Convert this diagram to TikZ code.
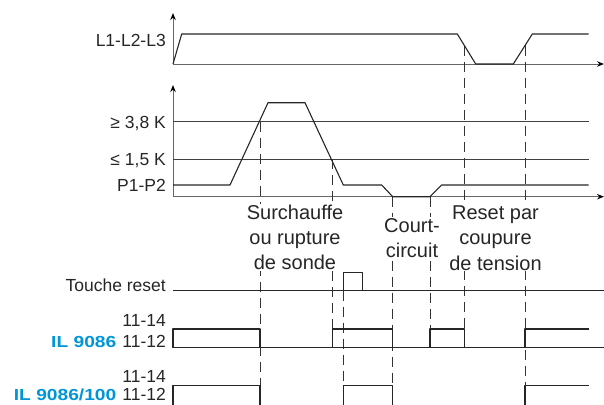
\documentclass[tikz,border=0pt]{standalone}
\usepackage{fontspec}
\setmainfont{Liberation Sans}
\newfontfamily\ilfont[FakeStretch=1.2]{Liberation Sans}
\usetikzlibrary{arrows.meta}
\definecolor{relayBlue}{RGB}{0,150,214}

\begin{document}
\begin{tikzpicture}[x=1pt,y=-1pt,
    axe/.style={draw=black!60,line width=1pt},
    sig/.style={draw=black!85,line width=1.1pt,line join=round},
    seuil/.style={draw=black!75,line width=1pt},
    guide/.style={draw=black!80,line width=1pt,dash pattern=on 10pt off 6pt},
    lbl/.style={anchor=base east,inner sep=0pt,text=black!85,
                font=\fontsize{17.5}{20}\selectfont},
    cause/.style={align=center,fill=white,inner sep=1pt,text=black!85,
                  font=\fontsize{20}{25.3}\selectfont},
    tip/.style={-{Stealth[length=7pt,width=5.5pt,black]}}]
  \useasboundingbox (0,0) rectangle (604,404);
  \clip (0,0) rectangle (604,404);
  % axes
  \coordinate (o1) at (173,64);
  \coordinate (o2) at (173,196.7);
  \draw[axe,tip] (o1) -- (173,13);
  \draw[axe,tip] (o1) -- (604,64);
  \draw[axe,tip] (o2) -- (173,85);
  \draw[axe,tip] (o2) -- (604,196.7);
  \draw[seuil] (173,121.7) -- (588.7,121.7);
  \draw[seuil] (173,159.3) -- (588.7,159.3);
  % guides
  \foreach \x/\a/\b in {260/121.7/404, 332.3/159.3/347.7, 343.3/290.7/404,
                        392.7/196.7/404, 430/196.7/347.7, 464.3/45.5/347.7,
                        525/45.5/404}
    \draw[guide] (\x,\a) -- (\x,\b);
  % labels
  \node[lbl](l1) at (166,46.5){L1-L2-L3};
  \node[lbl](s38) at (166,128){≥ 3,8 K};
  \node[lbl](s15) at (166,165.6){≤ 1,5 K};
  \node[lbl](p12) at (166,191.4){P1-P2};
  \node[lbl](tr) at (166,291.3){Touche reset};
  \node[lbl](a14) at (166,326.5){11-14};
  \node[lbl](a12) at (166,347.7){{\fontsize{16}{20}\ilfont\bfseries
      \color{relayBlue}IL 9086}\hspace{6pt}11-12};
  \node[lbl](b14) at (166,382.8){11-14};
  \node[lbl](b12) at (166,400.3){{\fontsize{16}{20}\ilfont\bfseries
      \color{relayBlue}IL 9086/100}\hspace{6pt}11-12};
  \node[cause](surch) at (295,237.5){Surchauffe\\ou rupture\\de sonde};
  \node[cause](court) at (412,238){Court-\\circuit};
  \node[cause](reset) at (495.5,238){Reset par\\coupure\\de tension};
  % signals
  \draw[sig] (o1) -- (181.7,34) -- (457.3,34) -- (475.7,64) -- (513.3,64)
    -- (532.3,34) -- (588.7,34);
  \draw[sig] (173,185) -- (230,185) -- (268,102.7) -- (305,102.7)
    -- (343.3,185) -- (381.7,185) -- (392.7,196.7) -- (430,196.7)
    -- (441.7,185) -- (588.7,185);
  \draw[sig] (173,290.7) -- (604,290.7);
  \draw[sig] (343.3,290.7) |- (362.3,272.3) -- (362.3,290.7);
  \draw[sig] (173,347.7) -- (604,347.7);
  \draw[sig] (173,347.7) |- (260,329) -- (260,347.7)
    (332.3,347.7) |- (392.7,329) -- (392.7,347.7)
    (430,347.7) |- (464.3,329) -- (464.3,347.7)
    (525,347.7) |- (588.7,329);
  \draw[sig] (173,406) |- (260,385.7) -- (260,406)
    (343.3,406) |- (392.7,385.7) -- (392.7,406)
    (525,406) |- (588.7,385.7);
\end{tikzpicture}
\end{document}
